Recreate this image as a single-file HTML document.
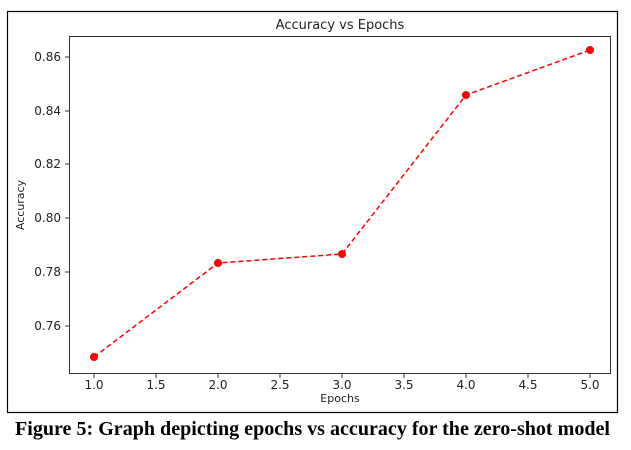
<!DOCTYPE html>
<html><head><style>body{margin:0;background:#fff}</style></head><body>
<svg width="631" height="450" xmlns="http://www.w3.org/2000/svg" style="display:block">
<rect x="7.5" y="11.5" width="610" height="401" fill="none" stroke="#000" stroke-width="1.2"/>
<rect x="69.5" y="36.5" width="541" height="337" fill="none" stroke="#333" stroke-width="1"/>
<g font-family="DejaVu Sans, sans-serif" font-size="12" fill="#222">
<text x="340" y="29" text-anchor="middle" font-size="13">Accuracy vs Epochs</text>
<text x="340" y="402" text-anchor="middle" font-size="11">Epochs</text>
<text transform="translate(24,205) rotate(-90)" text-anchor="middle" font-size="11">Accuracy</text>
<g text-anchor="end">
<text x="61" y="61">0.86</text><text x="61" y="115">0.84</text><text x="61" y="168">0.82</text>
<text x="61" y="222">0.80</text><text x="61" y="276">0.78</text><text x="61" y="330">0.76</text>
</g>
<g stroke="#333"><line x1="65" x2="69" y1="57" y2="57"/><line x1="65" x2="69" y1="111" y2="111"/><line x1="65" x2="69" y1="164" y2="164"/><line x1="65" x2="69" y1="218" y2="218"/><line x1="65" x2="69" y1="272" y2="272"/><line x1="65" x2="69" y1="326" y2="326"/></g>
<g text-anchor="middle">
<text x="94" y="389">1.0</text><text x="156" y="389">1.5</text><text x="218" y="389">2.0</text><text x="280" y="389">2.5</text><text x="342" y="389">3.0</text><text x="404" y="389">3.5</text><text x="466" y="389">4.0</text><text x="528" y="389">4.5</text><text x="590" y="389">5.0</text>
</g>
<g stroke="#333"><line y1="374" y2="378" x1="94" x2="94"/><line y1="374" y2="378" x1="156" x2="156"/><line y1="374" y2="378" x1="218" x2="218"/><line y1="374" y2="378" x1="280" x2="280"/><line y1="374" y2="378" x1="342" x2="342"/><line y1="374" y2="378" x1="404" x2="404"/><line y1="374" y2="378" x1="466" x2="466"/><line y1="374" y2="378" x1="528" x2="528"/><line y1="374" y2="378" x1="590" x2="590"/></g>
</g>
<polyline points="94,357 218,263 342,254 466,95 590,50" fill="none" stroke="#f00" stroke-width="1.5" stroke-dasharray="5,3"/>
<g fill="#f00"><circle cx="94" cy="357" r="4"/><circle cx="218" cy="263" r="4"/><circle cx="342" cy="254" r="4"/><circle cx="466" cy="95" r="4"/><circle cx="590" cy="50" r="4"/></g>
<text x="15" y="435" font-family="Liberation Serif, serif" font-weight="bold" font-size="20" textLength="595" lengthAdjust="spacingAndGlyphs">Figure 5: Graph depicting epochs vs accuracy for the zero-shot model</text>
</svg>
</body></html>
